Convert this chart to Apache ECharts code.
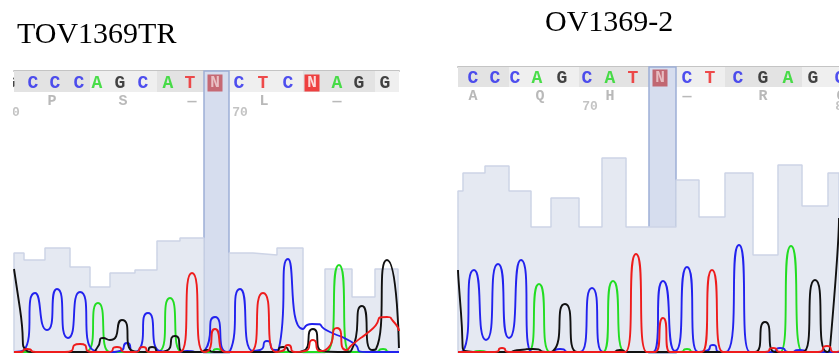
<!DOCTYPE html>
<html><head><meta charset="utf-8">
<script src="https://cdn.jsdelivr.net/npm/echarts@6/dist/echarts.min.js"></script>
<style>html,body{margin:0;padding:0;background:#fff}#c{width:839px;height:354px}</style>
</head><body><div id="c"></div>
<script>
// ---------- titles ----------
const leftTitle = 'TOV1369TR';
const rightTitle = 'OV1369-2';

// ---------- left panel (TOV1369TR) ----------
const leftBases   = ['G','C','C','C','A','G','C','A','T','N','C','T','C','N','A','G','G'];
const leftBasePos = [10,33,55,79,97,120,143,168,190,215,239,263,288,312,337,359,385];
const leftAmino    = ['P','S','—','L','—'];
const leftAminoPos = [52,123,192,264,337];
const leftNums     = ['60','70'];
const leftNumPos   = [12,240];
const leftQualEdges = [14,24,45,70,90,110,135,157,180,204,229,253,277,303,325,352,375,398];
const leftQual      = [100,93,105,86,66,80,83,112,115,0,100,98,105,0,84,56,84];
const leftCodonEdges = [14,90,157,229,303,375,399];
const leftBand = [204,229];
const leftA = [[14,1],[80,1],[88,2],[98,50],[110,1],[150,1],[160,2],[170,55],[182,1],[210,1],[217,4],[224,1],[320,1],[328,2],[339,88],[350,1],[375,1],[383,4],[390,1],[399,1]];
const leftC = [[14,1],[24,3],[35,60],[47,23],[57,64],[68,15],[80,61],[93,3],[110,1],[120,2],[127,10],[134,1],[138,2],[148,40],[160,2],[180,1],[187,2],[200,1],[205,3],[215,36],[227,1],[230,2],[240,64],[253,2],[260,3],[267,12],[275,3],[279,5],[288,94],[303,24],[312,29],[330,21],[350,12],[367,1],[399,1]];
const leftG = [[14,84],[20,44],[26,3],[40,1],[92,1],[97,5],[103,15],[110,13],[122,33],[133,2],[145,1],[152,6],[160,1],[166,2],[175,17],[184,1],[200,1],[207,3],[214,1],[274,1],[283,6],[293,1],[303,2],[313,24],[322,2],[345,1],[352,4],[362,47],[372,3],[376,4],[387,93],[399,5]];
const leftT = [[14,1],[20,1],[27,4],[36,1],[65,1],[80,9],[93,1],[108,1],[117,6],[126,1],[135,1],[143,6],[150,1],[180,1],[192,80],[204,1],[208,2],[215,24],[226,1],[250,1],[263,60],[276,1],[282,2],[288,8],[295,1],[305,2],[313,13],[320,2],[328,5],[337,25],[346,3],[353,9],[370,22],[387,36],[393,32],[399,22]];

// ---------- right panel (OV1369-2) ----------
const rightBases   = ['C','C','C','A','G','C','A','T','N','C','T','C','G','A','G','C'];
const rightBasePos = [473,495,515,537,562,587,610,633,660,687,710,738,763,788,813,840];
const rightAmino    = ['A','Q','H','—','R','C'];
const rightAminoPos = [473,540,610,687,763,841];
const rightNums     = ['70','80'];
const rightNumPos   = [590,843];
const rightQualEdges = [458,463,485,509,531,551,579,602,626,649,676,699,725,753,778,802,828,839];
const rightQual      = [162,180,187,162,126,155,126,195,126,126,173,136,180,98,188,147,180];
const rightCodonEdges = [458,509,579,649,725,802,839];
const rightBand = [649,676];
const rightA = [[458,1],[470,1],[480,2],[490,1],[528,1],[539,69],[550,1],[603,1],[613,72],[625,1],[680,1],[687,4],[694,1],[780,1],[791,107],[803,1],[839,1]];
const rightC = [[458,1],[463,2],[474,83],[486,13],[498,89],[509,15],[521,93],[532,1],[550,1],[560,4],[570,1],[580,1],[592,65],[603,1],[653,1],[663,72],[675,2],[687,86],[698,1],[706,2],[713,8],[720,1],[728,2],[739,108],[750,1],[772,1],[780,5],[790,1],[800,3],[810,1],[839,1]];
const rightG = [[458,83],[461,40],[465,2],[505,1],[520,3],[533,4],[548,1],[553,2],[565,49],[577,1],[612,1],[620,3],[628,1],[755,1],[765,31],[775,1],[803,1],[815,73],[827,1],[830,5],[839,135]];
const rightT = [[458,1],[495,1],[502,5],[509,1],[625,1],[636,99],[647,1],[655,1],[663,35],[670,1],[702,1],[712,83],[723,1],[765,1],[773,5],[781,1],[818,1],[827,7],[835,1],[839,2]];

// ---------- styling ----------
const baseColor = {A:'#1fd81f', C:'#2626ee', G:'#161616', T:'#ee2020'};
const traceColor = {A:'#22dd22', C:'#2222ee', G:'#111111', T:'#ee1c1c'};

const panels = [
  {gi:0, left:14, width:385, top:71, height:282, min:14, max:399,
   bases:leftBases, basePos:leftBasePos, baseY:270,
   amino:leftAmino, aminoPos:leftAminoPos, aminoY:252,
   nums:leftNums, numPos:leftNumPos, numY:240,
   qe:leftQualEdges, q:leftQual, codon:leftCodonEdges, stripY:[261,282], band:leftBand,
   traces:{A:leftA,C:leftC,G:leftG,T:leftT},
   nStyle:[{fill:'#c24c55',txt:'#f3d6d8'},{fill:'#f01616',txt:'#ffffff'}]},
  {gi:1, left:458, width:381, top:67, height:286, min:458, max:839,
   bases:rightBases, basePos:rightBasePos, baseY:275,
   amino:rightAmino, aminoPos:rightAminoPos, aminoY:257,
   nums:rightNums, numPos:rightNumPos, numY:246,
   qe:rightQualEdges, q:rightQual, codon:rightCodonEdges, stripY:[266,286], band:rightBand,
   traces:{A:rightA,C:rightC,G:rightG,T:rightT},
   nStyle:[{fill:'#bb4a52',txt:'#f0d2d4'}]}
];

const grid = [], xAxis = [], yAxis = [], series = [];
panels.forEach(p => {
  grid.push({left:p.left, width:p.width, top:p.top, height:p.height});
  xAxis.push({gridIndex:p.gi, type:'value', min:p.min, max:p.max, position:'top',
    axisLine:{show:true, onZero:false, lineStyle:{color:'#c4c4c4', width:2}},
    axisTick:{show:false}, axisLabel:{show:false}, splitLine:{show:false}});
  yAxis.push({gridIndex:p.gi, type:'value', min:0, max:p.height, show:false});

  // quality step area + strip codon shading
  const qd = [[p.qe[0],0]];
  for (let i=0;i<p.q.length;i++) qd.push([p.qe[i], p.q[i]]);
  qd.push([p.qe[p.qe.length-1], p.q[p.q.length-1]]);
  qd.push([p.qe[p.qe.length-1], 0]);
  const shade = [];
  for (let i=0;i<p.codon.length-1;i++) {
    shade.push([{xAxis:p.codon[i], yAxis:p.stripY[0], itemStyle:{color: i%2===0 ? '#e3e3e3' : '#efefef'}},
                {xAxis:p.codon[i+1], yAxis:p.stripY[1]}]);
  }
  series.push({type:'line', xAxisIndex:p.gi, yAxisIndex:p.gi, data:qd, step:'end', z:1,
    showSymbol:false, silent:true,
    lineStyle:{color:'#cdd4e6', width:1.5}, areaStyle:{color:'#e5e9f2', opacity:1},
    markArea:{silent:true, data:shade}});

  // highlighted column band
  series.push({type:'line', xAxisIndex:p.gi, yAxisIndex:p.gi, data:[], z:2, silent:true,
    markArea:{silent:true, itemStyle:{color:'#d6ddee', borderColor:'#9dafd6', borderWidth:1.5},
      data:[[{xAxis:p.band[0], yAxis:0},{xAxis:p.band[1], yAxis:p.height}]]}});

  // traces
  ['A','C','G','T'].forEach(b => {
    series.push({type:'line', xAxisIndex:p.gi, yAxisIndex:p.gi, data:p.traces[b], z:3,
      smooth:0.9, showSymbol:false, silent:true,
      lineStyle:{color:traceColor[b], width:1.9}});
  });

  // base letters
  let nIdx = 0;
  const bd = p.bases.map((b,i) => {
    if (b === 'N') {
      const st = p.nStyle[Math.min(nIdx++, p.nStyle.length-1)];
      return {value:[p.basePos[i], p.baseY], symbol:'rect', symbolSize:[15,17],
        itemStyle:{color:st.fill},
        label:{show:true, position:'inside', formatter:b, color:st.txt,
          fontFamily:'Liberation Mono', fontWeight:'bold', fontSize:16}};
    }
    return {value:[p.basePos[i], p.baseY], symbolSize:1, itemStyle:{color:'rgba(0,0,0,0)'},
      label:{show:true, position:'inside', formatter:b, color:baseColor[b],
        fontFamily:'Liberation Mono', fontWeight:'bold', fontSize:18}};
  });
  const ad = p.amino.map((a,i) => ({value:[p.aminoPos[i], p.aminoY], symbolSize:1,
    itemStyle:{color:'rgba(0,0,0,0)'},
    label:{show:true, position:'inside', formatter:a, color:'#a8a8a8',
      fontFamily:'Liberation Mono', fontWeight:'bold', fontSize:15}}));
  const nd = p.nums.map((t,i) => ({value:[p.numPos[i], p.numY], symbolSize:1,
    itemStyle:{color:'rgba(0,0,0,0)'},
    label:{show:true, position:'inside', formatter:t, color:'#b4b4b4',
      fontFamily:'Liberation Mono', fontWeight:'bold', fontSize:13}}));
  series.push({type:'scatter', xAxisIndex:p.gi, yAxisIndex:p.gi, data:bd.concat(ad, nd),
    z:5, clip:false, silent:true});
});

const chart = echarts.init(document.getElementById('c'), null, {renderer:'canvas'});
chart.setOption({
  animation:false,
  backgroundColor:'#ffffff',
  title:[
    {text:leftTitle, left:12, top:15, textStyle:{fontFamily:'Liberation Serif', fontSize:30, fontWeight:'normal', color:'#000'}},
    {text:rightTitle, left:540, top:3, textStyle:{fontFamily:'Liberation Serif', fontSize:30, fontWeight:'normal', color:'#000'}}
  ],
  grid, xAxis, yAxis, series,
  graphic:[{type:'rect', left:0, top:60, shape:{width:13, height:70}, style:{fill:'#ffffff'}, z:100}]
});
</script></body></html>
